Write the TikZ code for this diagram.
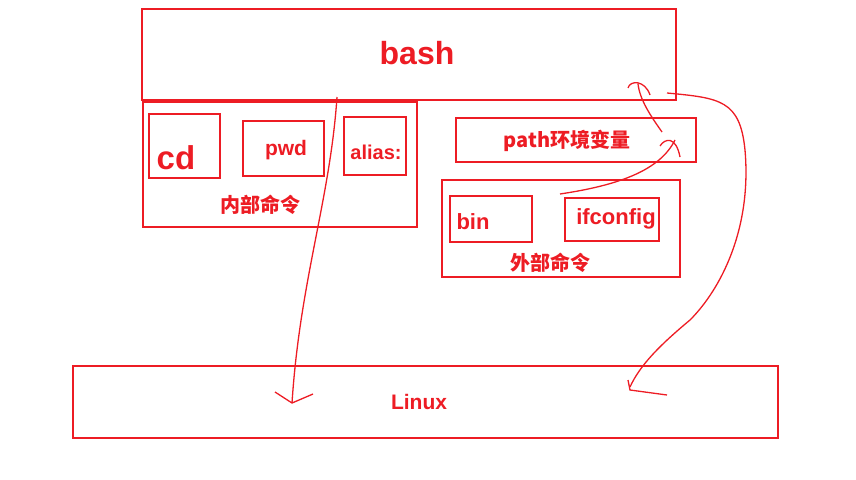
\documentclass[tikz,border=0pt]{standalone}
\usepackage{fontspec}
\setmainfont{Liberation Sans}
\newfontfamily\cjk{Noto Sans CJK SC}
\definecolor{rd}{RGB}{237,28,36}
\begin{document}
\begin{tikzpicture}[x=1pt,y=-1pt,
 box/.style={draw=rd,line width=2.6pt},
 lbl/.style={text=rd,font=\bfseries},
 pen/.style={draw=rd,line width=1.3pt}]
\useasboundingbox (0,0) rectangle (856,479);
\draw[box] (142,9) rectangle (676,100);
\node[lbl,font=\bfseries\fontsize{32}{36}\selectfont] (bash) at (417,53) {bash};
\draw[box] (143,102) rectangle (417,227);
\draw[box] (149,114) rectangle (220,178);
\node[lbl,font=\bfseries\fontsize{33}{36}\selectfont] (cd) at (176,158) {cd};
\draw[box] (243,121) rectangle (324,176);
\node[lbl,font=\bfseries\fontsize{21}{24}\selectfont] (pwd) at (286,150) {pwd};
\draw[box] (344,117) rectangle (406,175);
\node[lbl,font=\bfseries\fontsize{20}{24}\selectfont] (alias) at (376,152) {alias:};
\node[lbl,font=\cjk\bfseries\fontsize{20}{24}\selectfont] (nb) at (260,205) {内部命令};
\draw[box] (456,118) rectangle (696,162);
\node[lbl,font=\cjk\bfseries\fontsize{20}{24}\selectfont] (path) at (567,141) {path环境变量};
\draw[box] (442,180) rectangle (680,277);
\draw[box] (450,196) rectangle (532,242);
\node[lbl,font=\bfseries\fontsize{22}{26}\selectfont] (bin) at (473,222) {bin};
\draw[box] (565,198) rectangle (659,241);
\node[lbl,font=\bfseries\fontsize{22}{26}\selectfont] (ifc) at (616,219) {ifconfig};
\node[lbl,font=\cjk\bfseries\fontsize{20}{24}\selectfont] (wb) at (550,263) {外部命令};
\draw[box] (73,366) rectangle (778,438);
\node[lbl,font=\bfseries\fontsize{21}{24}\selectfont] (linux) at (419,402) {Linux};
% hand-drawn arrows
\draw[pen] (337,97) .. controls (330,200) and (300,280) .. (292,403);
\draw[pen] (275,392) -- (292,403) -- (313,394);
\draw[pen] (560,194) .. controls (620,185) and (660,170) .. (675,140);
\draw[pen] (660,146) .. controls (665,138) and (676,136) .. (680,157);
\draw[pen] (662,132) .. controls (650,115) and (640,100) .. (638,84);
\draw[pen] (628,88) .. controls (630,80) and (645,80) .. (650,95);
\draw[pen] (667,93) .. controls (720,98) and (740,100) .. (745,150)
  .. controls (752,230) and (720,290) .. (690,320)
  .. controls (660,345) and (640,365) .. (630,387);
\draw[pen] (628,380) -- (630,390) -- (667,395);
\end{tikzpicture}
\end{document}
